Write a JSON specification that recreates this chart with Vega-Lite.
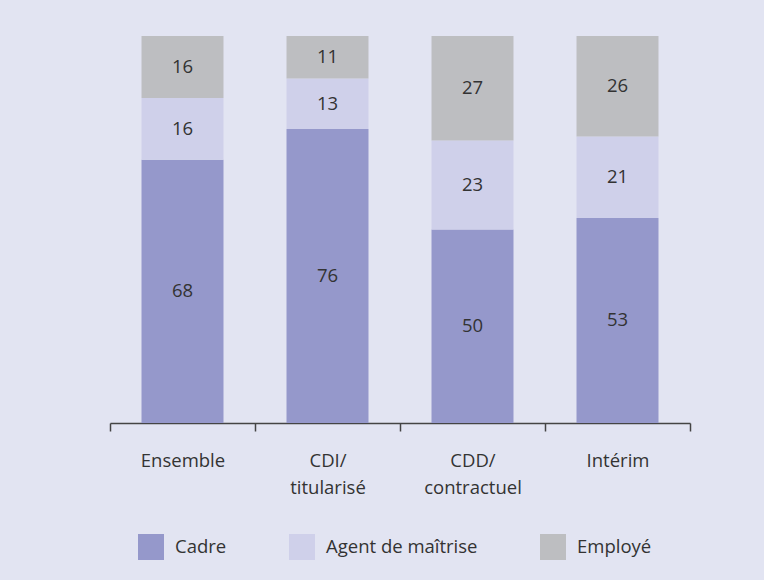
{
  "$schema": "https://vega.github.io/schema/vega-lite/v6.json",
  "width": 580,
  "height": 387,
  "autosize": {"type": "none"},
  "padding": {"left": 110, "top": 36, "right": 74, "bottom": 157},
  "background": "#e2e4f2",
  "config": {
    "font": "Open Sans",
    "view": {"stroke": null},
    "axis": {"labelFont": "Open Sans"},
    "legend": {"labelFont": "Open Sans"}
  },
  "data": {
    "values": [
      {"contrat": "Ensemble", "cat": "Cadre", "rang": 1, "v": 68},
      {"contrat": "Ensemble", "cat": "Agent de maîtrise", "rang": 2, "v": 16},
      {"contrat": "Ensemble", "cat": "Employé", "rang": 3, "v": 16},
      {"contrat": "CDI/titularisé", "cat": "Cadre", "rang": 1, "v": 76},
      {"contrat": "CDI/titularisé", "cat": "Agent de maîtrise", "rang": 2, "v": 13},
      {"contrat": "CDI/titularisé", "cat": "Employé", "rang": 3, "v": 11},
      {"contrat": "CDD/contractuel", "cat": "Cadre", "rang": 1, "v": 50},
      {"contrat": "CDD/contractuel", "cat": "Agent de maîtrise", "rang": 2, "v": 23},
      {"contrat": "CDD/contractuel", "cat": "Employé", "rang": 3, "v": 27},
      {"contrat": "Intérim", "cat": "Cadre", "rang": 1, "v": 53},
      {"contrat": "Intérim", "cat": "Agent de maîtrise", "rang": 2, "v": 21},
      {"contrat": "Intérim", "cat": "Employé", "rang": 3, "v": 26}
    ]
  },
  "transform": [
    {"stack": "v", "groupby": ["contrat"], "sort": [{"field": "rang", "order": "ascending"}], "as": ["y0", "y1"]}
  ],
  "layer": [
    {
      "mark": {"type": "bar", "width": 82},
      "encoding": {
        "x": {
          "field": "contrat",
          "type": "nominal",
          "sort": ["Ensemble", "CDI/titularisé", "CDD/contractuel", "Intérim"],
          "scale": {"paddingInner": 0, "paddingOuter": 0},
          "axis": {
            "title": null,
            "labelAngle": 0,
            "labelFontSize": 18.5,
            "labelColor": "#333333",
            "labelPadding": 20,
            "labelLineHeight": 27,
            "labelExpr": "indexof(datum.label,'/')>0 ? [slice(datum.label,0,indexof(datum.label,'/')+1), slice(datum.label,indexof(datum.label,'/')+1)] : datum.label",
            "domainColor": "#444444",
            "domainWidth": 1.5,
            "tickColor": "#444444",
            "tickWidth": 1.5,
            "tickSize": 8,
            "tickBand": "extent",
            "grid": false
          }
        },
        "y": {"field": "y0", "type": "quantitative", "scale": {"domain": [0, 100]}, "axis": null},
        "y2": {"field": "y1"},
        "color": {
          "field": "cat",
          "type": "nominal",
          "scale": {"domain": ["Cadre", "Agent de maîtrise", "Employé"], "range": ["#9598cb", "#cfd0ea", "#bdbec1"]},
          "legend": {
            "title": null,
            "orient": "none",
            "legendX": 28,
            "legendY": 498,
            "direction": "horizontal",
            "symbolType": "square",
            "symbolSize": 676,
            "symbolStrokeWidth": 0,
            "symbolOpacity": 1,
            "labelFontSize": 18.5,
            "labelColor": "#333333",
            "labelOffset": 11,
            "columnPadding": 62
          }
        }
      }
    },
    {
      "transform": [{"fold": ["y0", "y1"], "as": ["k", "pos"]}],
      "mark": {"type": "text", "fontSize": 18.5, "color": "#333333"},
      "encoding": {
        "x": {"field": "contrat", "type": "nominal", "sort": ["Ensemble", "CDI/titularisé", "CDD/contractuel", "Intérim"]},
        "y": {"aggregate": "mean", "field": "pos", "type": "quantitative"},
        "detail": {"field": "cat"},
        "text": {"field": "v", "type": "quantitative"}
      }
    }
  ]
}
